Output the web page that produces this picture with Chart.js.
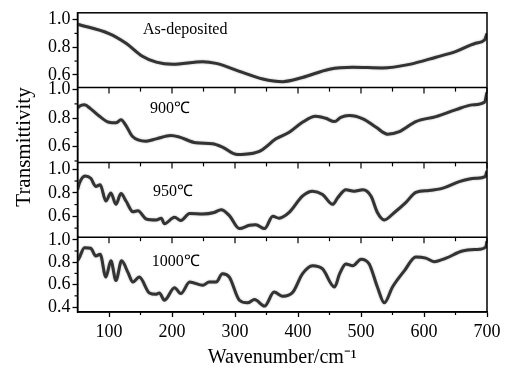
<!DOCTYPE html>
<html>
<head>
<meta charset="utf-8">
<script src="https://cdn.jsdelivr.net/npm/chart.js@4.4.0/dist/chart.umd.min.js"></script>
<style>
  html, body { margin: 0; padding: 0; background: #fff; }
  #wrap { width: 510px; height: 371px; }
</style>
</head>
<body>
<div id="wrap"><canvas id="ftir"></canvas></div>
<script>
// wavenumber (cm-1) and transmittivity
const wnAsDep = [50, 100, 127, 153, 175, 201, 249, 270, 312, 344, 376, 407, 450, 487, 534, 577, 619, 651, 682, 696, 700];
const tAsDep = [0.966, 0.899, 0.829, 0.735, 0.692, 0.676, 0.695, 0.683, 0.618, 0.570, 0.551, 0.581, 0.641, 0.655, 0.650, 0.676, 0.728, 0.770, 0.829, 0.852, 0.899];

const wn900 = [50, 53, 61, 71, 85, 100, 111, 119, 127, 137, 159, 175, 198, 212, 238, 264, 280, 304, 323, 341,
  365, 386, 407, 428, 444, 458, 468, 481, 503, 524, 542, 561, 587, 619, 651, 677, 696, 700];
const t900 = [0.869, 0.883, 0.893, 0.865, 0.813, 0.771, 0.767, 0.788, 0.748, 0.673, 0.639, 0.655, 0.678, 0.667, 0.627, 0.620, 0.597, 0.545, 0.550, 0.573,
  0.655, 0.701, 0.771, 0.813, 0.799, 0.776, 0.806, 0.818, 0.795, 0.736, 0.688, 0.706, 0.776, 0.811, 0.860, 0.893, 0.911, 0.981];

const wn950 = [50, 53, 62, 71, 79, 86, 95, 103, 111, 119, 127, 138, 146, 159, 175, 183, 188, 204, 214, 228,
  249, 267, 278, 291, 307, 323, 333, 347, 360, 370, 386, 407, 423, 439, 455, 463, 476, 489, 503, 516,
  526, 537, 553, 571, 587, 608, 630, 656, 682, 697, 700];
const t950 = [0.826, 0.882, 0.942, 0.923, 0.854, 0.868, 0.730, 0.799, 0.702, 0.793, 0.730, 0.639, 0.647, 0.578, 0.570, 0.584, 0.537, 0.592, 0.565, 0.625,
  0.620, 0.633, 0.656, 0.606, 0.496, 0.524, 0.529, 0.496, 0.601, 0.584, 0.633, 0.771, 0.813, 0.785, 0.702, 0.758, 0.826, 0.813, 0.826, 0.771,
  0.633, 0.570, 0.633, 0.716, 0.804, 0.820, 0.840, 0.895, 0.923, 0.937, 0.986];

const wn1000 = [50, 53, 61, 71, 79, 86, 95, 103, 111, 120, 130, 138, 148, 164, 175, 180, 188, 204, 214, 228,
  249, 259, 270, 280, 291, 307, 320, 331, 347, 362, 376, 392, 407, 423, 439, 458, 466, 476, 487, 500,
  513, 526, 537, 550, 569, 587, 603, 616, 635, 661, 688, 698, 700];
const t1000 = [0.812, 0.842, 0.930, 0.924, 0.856, 0.871, 0.667, 0.812, 0.638, 0.812, 0.709, 0.623, 0.667, 0.526, 0.514, 0.526, 0.461, 0.572, 0.520, 0.623,
  0.594, 0.623, 0.623, 0.696, 0.667, 0.461, 0.438, 0.467, 0.409, 0.534, 0.496, 0.534, 0.696, 0.769, 0.740, 0.579, 0.696, 0.784, 0.769, 0.827,
  0.784, 0.579, 0.438, 0.579, 0.725, 0.847, 0.836, 0.805, 0.836, 0.900, 0.915, 0.935, 0.988];

const panelNames = ['As-deposited', '900℃', '950℃', '1000℃'];
const xTicks = [100, 200, 300, 400, 500, 600, 700];
const xMinorTicks = [150, 250, 350, 450, 550, 650];
const yTicksTop = [0.6, 0.8, 1.0];
const yTicksBottom = [0.4, 0.6, 0.8, 1.0];

// axis ids, top panel first
const panelIds = ['yAs', 'y900', 'y950', 'y1000'];
const panelRange = {
  yAs: [0.508, 1.049],
  y900: [0.49, 1.014],
  y950: [0.423, 1.058],
  y1000: [0.356, 1.023]
};
// where each panel name sits: [wavenumber, transmittivity]
const namePos = [[154, 0.923], [165, 0.867], [170, 0.81], [168, 0.80]];

const serif = '"Liberation Serif", "Times New Roman", serif';
Chart.defaults.font.family = serif;
Chart.defaults.color = '#000';

const toPoints = (xs, ys) => xs.map((x, i) => ({ x: x, y: ys[i] }));

function lineSet(label, xs, ys, axis) {
  return {
    label: label,
    data: toPoints(xs, ys),
    yAxisID: axis,
    borderColor: '#333',
    borderWidth: 3,
    pointRadius: 0,
    cubicInterpolationMode: 'monotone',
    fill: false
  };
}

function yScale(id, ticks) {
  return {
    type: 'linear',
    position: 'left',
    stack: 'panels',
    stackWeight: 1,
    min: panelRange[id][0],
    max: panelRange[id][1],
    afterBuildTicks: (s) => { s.ticks = ticks.map(v => ({ value: v })); },
    afterFit: (s) => { s.width = 77.5; },
    ticks: {
      autoSkip: false,
      padding: 2,
      font: { size: 18 },
      callback: (v) => Number(v).toFixed(1)
    },
    grid: { drawOnChartArea: false, drawTicks: true, tickLength: 5, tickColor: '#000', tickWidth: 1.3 },
    border: { display: true, color: '#000', width: 1.5 }
  };
}

// soft grey edge round the traces, as in the scanned figure
const haloPlugin = {
  id: 'halo',
  beforeDatasetsDraw(chart) {
    chart.ctx.save();
    chart.ctx.shadowColor = 'rgba(0,0,0,0.35)';
    chart.ctx.shadowBlur = 2;
  },
  afterDatasetsDraw(chart) {
    chart.ctx.restore();
  }
};

// frame, minor ticks, panel names and y title
const framePlugin = {
  id: 'frame',
  afterDraw(chart) {
    const { ctx, chartArea: a, scales } = chart;
    const xs = scales.x;
    ctx.save();
    ctx.strokeStyle = '#000';
    ctx.lineWidth = 1.5;
    ctx.strokeRect(a.left, a.top, a.right - a.left, a.bottom - a.top);

    ctx.lineWidth = 1.2;
    panelIds.forEach((id, i) => {
      const s = scales[id];
      // minor y ticks every 0.1
      for (let k = 1; k <= 10; k++) {
        const v = k / 10;
        if (k % 2 === 0 || v < s.min || v > s.max) continue;
        const py = s.getPixelForValue(v);
        ctx.beginPath();
        ctx.moveTo(a.left - 3, py);
        ctx.lineTo(a.left, py);
        ctx.stroke();
      }
      if (i < panelIds.length - 1) {
        const yb = s.bottom;
        ctx.lineWidth = 1.5;
        ctx.beginPath();
        ctx.moveTo(a.left, yb);
        ctx.lineTo(a.right, yb);
        ctx.stroke();
        ctx.lineWidth = 1.2;
        xTicks.forEach(v => {
          const px = xs.getPixelForValue(v);
          ctx.beginPath();
          ctx.moveTo(px, yb);
          ctx.lineTo(px, yb + 6);
          ctx.stroke();
        });
        xMinorTicks.forEach(v => {
          const px = xs.getPixelForValue(v);
          ctx.beginPath();
          ctx.moveTo(px, yb);
          ctx.lineTo(px, yb + 4);
          ctx.stroke();
        });
      }
    });
    // minor x ticks on the bottom axis
    xMinorTicks.forEach(v => {
      const px = xs.getPixelForValue(v);
      ctx.beginPath();
      ctx.moveTo(px, a.bottom);
      ctx.lineTo(px, a.bottom + 3);
      ctx.stroke();
    });

    ctx.fillStyle = '#000';
    ctx.font = '16px ' + serif;
    ctx.textBaseline = 'middle';
    ctx.textAlign = 'left';
    panelIds.forEach((id, i) => {
      ctx.fillText(panelNames[i], xs.getPixelForValue(namePos[i][0]), scales[id].getPixelForValue(namePos[i][1]));
    });

    ctx.font = '21px ' + serif;
    ctx.textAlign = 'center';
    ctx.translate(24, 147);
    ctx.rotate(-Math.PI / 2);
    ctx.fillText('Transmittivity', 0, 0);
    ctx.restore();
  }
};

new Chart(document.getElementById('ftir'), {
  type: 'line',
  data: {
    datasets: [
      lineSet('As-deposited', wnAsDep, tAsDep, 'yAs'),
      lineSet('900℃', wn900, t900, 'y900'),
      lineSet('950℃', wn950, t950, 'y950'),
      lineSet('1000℃', wn1000, t1000, 'y1000')
    ]
  },
  options: {
    responsive: true,
    maintainAspectRatio: false,
    animation: false,
    layout: { padding: { top: 7, right: 23, left: 0, bottom: 0 } },
    plugins: { legend: { display: false }, tooltip: { enabled: false } },
    scales: {
      x: {
        type: 'linear',
        position: 'bottom',
        min: 50,
        max: 700,
        afterBuildTicks: (s) => { s.ticks = xTicks.map(v => ({ value: v })); },
        afterFit: (s) => { s.height = 59; },
        ticks: { autoSkip: false, maxRotation: 0, padding: 4, font: { size: 18 } },
        grid: { drawOnChartArea: false, drawTicks: true, tickLength: 5, tickColor: '#000', tickWidth: 1.3 },
        border: { display: true, color: '#000', width: 1.5 },
        title: { display: true, text: 'Wavenumber/cm⁻¹', font: { size: 20 }, padding: { top: 0, bottom: 1 } }
      },
      // stacked panels: the last defined is placed on top
      y1000: yScale('y1000', yTicksBottom),
      y950: yScale('y950', yTicksTop),
      y900: yScale('y900', yTicksTop),
      yAs: yScale('yAs', yTicksTop)
    }
  },
  plugins: [haloPlugin, framePlugin]
});
</script>
</body>
</html>
